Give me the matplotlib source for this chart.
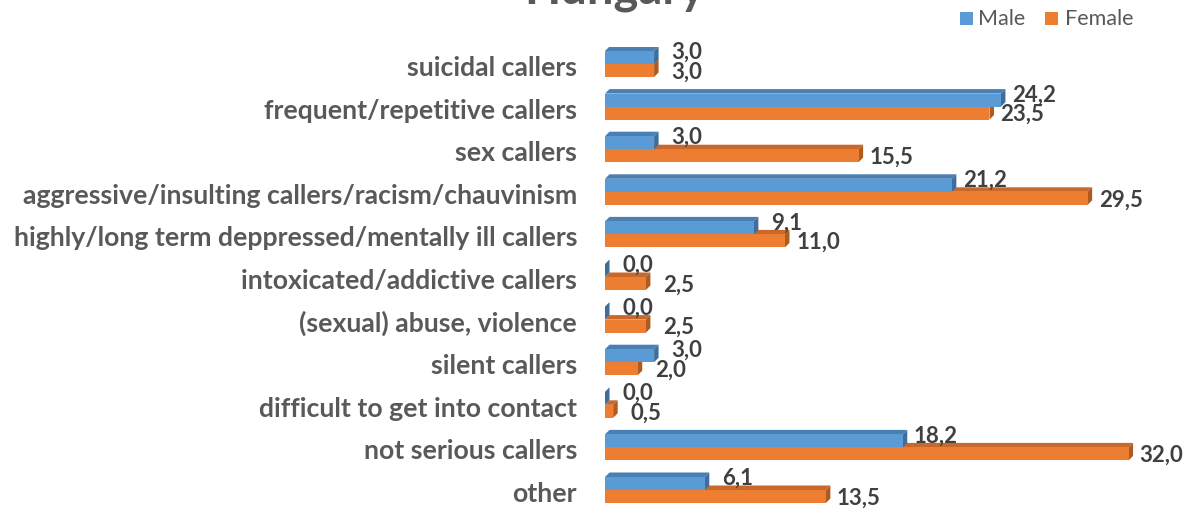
import matplotlib
matplotlib.use("Agg")
import matplotlib.pyplot as plt
from matplotlib.patches import Polygon

categories = [
    "suicidal callers",
    "frequent/repetitive callers",
    "sex callers",
    "aggressive/insulting callers/racism/chauvinism",
    "highly/long term deppressed/mentally ill callers",
    "intoxicated/addictive callers",
    "(sexual) abuse, violence",
    "silent callers",
    "difficult to get into contact",
    "not serious callers",
    "other",
]
male = [3.0, 24.2, 3.0, 21.2, 9.1, 0.0, 0.0, 3.0, 0.0, 18.2, 6.1]
female = [3.0, 23.5, 15.5, 29.5, 11.0, 2.5, 2.5, 2.0, 0.5, 32.0, 13.5]
series_names = ["Male", "Female"]

W, H = 1190, 509
fig = plt.figure(figsize=(W / 100, H / 100), dpi=100)

# axes geometry in pixels
x0_px, x1_px = 605, 1176
row0_px, row_step = 68, 42.6
n = len(categories)
top_px = row0_px - row_step / 2
bot_px = row0_px + row_step * (n - 0.5)
ax = fig.add_axes([x0_px / W, 1 - bot_px / H, (x1_px - x0_px) / W, (bot_px - top_px) / H])
xmax = 34.9
ax.set_xlim(0, xmax)
ax.set_ylim(n - 0.5, -0.5)
ax.axis("off")

px_x = (x1_px - x0_px) / xmax   # pixels per unit along x
px_y = row_step                 # pixels per unit along y
depth = 4.5
ddx = depth / px_x
ddy = depth / px_y

bar_h = 13 / px_y
shift = 4 / px_y

front_cols = {"Male": "#5B9BD5", "Female": "#ED7D31"}
top_cols = {"Male": "#4A7FB3", "Female": "#C8682A"}
side_cols = {"Male": "#3F6E9C", "Female": "#AE5A21"}


def bar3d(v, y_top, y_bot, name, z):
    top = Polygon([(0, y_top), (v, y_top), (v + ddx, y_top - ddy), (ddx, y_top - ddy)],
                  closed=True, fc=top_cols[name], ec="none", zorder=z)
    side = Polygon([(v, y_top), (v + ddx, y_top - ddy), (v + ddx, y_bot - ddy), (v, y_bot)],
                   closed=True, fc=side_cols[name], ec="none", zorder=z)
    front = Polygon([(0, y_top), (v, y_top), (v, y_bot), (0, y_bot)],
                    closed=True, fc=front_cols[name], ec="none", zorder=z + 0.1)
    for p in (top, side, front):
        ax.add_patch(p)


def fmt(v):
    return f"{v:.1f}".replace(".", ",")


lbl_off = 33 / px_x
val_kw = dict(ha="center", va="center", fontsize=16, fontweight="bold",
              color="#404040", family="Lato", zorder=5)
for i in range(n):
    gc = i - shift
    # female drawn first, the male bar sits in front of its top face
    bar3d(female[i], gc, gc + bar_h, "Female", 2)
    bar3d(male[i], gc - bar_h, gc, "Male", 3)
    ax.text(male[i] + lbl_off, i - 15.5 / px_y, fmt(male[i]), **val_kw)
    ax.text(female[i] + lbl_off, i + 4 / px_y, fmt(female[i]), **val_kw)
    fig.text(577 / W, 1 - (row0_px + row_step * i) / H, categories[i],
             ha="right", va="center", fontsize=19.2, fontweight="bold",
             color="#595959", family="Lato")

# title, partly above the top edge
fig.text(615 / W, 1 - 3 / H, "Hungary", ha="center", va="baseline",
         fontsize=34, fontweight="bold", color="#595959", family="Lato")

# legend
leg_y = 1 - 19 / H
for name, sx, tx in [("Male", 960, 978), ("Female", 1045, 1065)]:
    fig.patches.append(plt.Rectangle((sx / W, leg_y - 6.5 / H), 13 / W, 13 / H,
                                     transform=fig.transFigure, fc=front_cols[name], ec="none"))
    fig.text(tx / W, leg_y, name, ha="left", va="center", fontsize=15.5,
             color="#595959", family="Lato")

fig.savefig("out.png", dpi=100)
